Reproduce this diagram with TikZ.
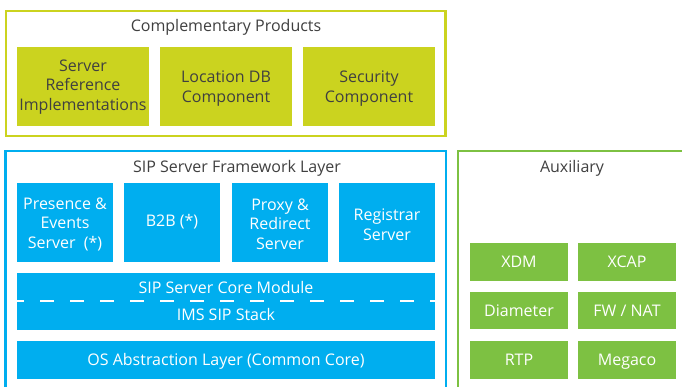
\documentclass[tikz,border=0pt]{standalone}
\usepackage{fontspec}
\setmainfont{Open Sans}
\definecolor{lime}{HTML}{CBD31F}
\definecolor{sipblue}{HTML}{00AEEF}
\definecolor{auxgreen}{HTML}{7DC142}
\definecolor{txt}{HTML}{404040}
\begin{document}
\begin{tikzpicture}[x=1pt,y=-1pt,
  lblm/.style={font=\fontsize{16}{19.5}\selectfont, align=center, inner sep=0pt},
  lbl/.style={lblm, text height=10pt, text depth=0pt},
  frame/.style={draw, line width=2.5pt, fill=white},
  title/.style={lbl, text=txt}]
\useasboundingbox (0,0) rectangle (682,387);
\clip (0,0) rectangle (682,387);
% frames
\draw[frame, draw=lime] (6,11) rectangle (445.5,136);
\draw[frame, draw=sipblue] (5.5,151) rectangle (446,420);
\draw[frame, draw=auxgreen] (458,151) rectangle (720,420);
% titles
\node[title] (tcomp) at (226,27) {Complementary Products};
\node[title] (tsip) at (237,167.5) {SIP Server Framework Layer};
\node[title] (taux) at (572,168) {Auxiliary};
% complementary boxes
\fill[lime] (17,47) rectangle (149,126);
\fill[lime] (160,47) rectangle (292,126);
\fill[lime] (303,47) rectangle (435,126);
\node[lblm,text=txt] (srv) at (83,87) {Server\\Reference\\Implementations};
\node[lblm,text=txt] (loc) at (226,88.5) {Location DB\\Component};
\node[lblm,text=txt] (sec) at (369,88.5) {Security\\Component};
% SIP boxes
\fill[sipblue] (17,183) rectangle (113,262);
\fill[sipblue] (124,183) rectangle (220,262);
\fill[sipblue] (232,183) rectangle (328,262);
\fill[sipblue] (339,183) rectangle (435,262);
\node[lblm,text=white] (pres) at (65,224) {Presence \&\\Events\\Server~~(*)};
\node[lbl,text=white] (b2b) at (172,222) {B2B (*)};
\node[lblm,text=white] (proxy) at (280,224) {Proxy \&\\Redirect\\Server};
\node[lblm,text=white] (reg) at (387,224.5) {Registrar\\Server};
\fill[sipblue] (17,273) rectangle (435,330);
\draw[white, line width=2.5pt, dash pattern=on 14pt off 16pt, dash phase=7pt] (17,301) -- (435,301);
\node[lbl,text=white] (core) at (226,288.5) {SIP Server Core Module};
\node[lbl,text=white] (ims) at (226,315.5) {IMS SIP Stack};
\fill[sipblue] (17,341) rectangle (435,379);
\node[lbl,text=white] (os) at (226,360) {OS Abstraction Layer (Common Core)};
% aux boxes
\fill[auxgreen] (470,243) rectangle (568,281);
\fill[auxgreen] (578,243) rectangle (676,281);
\fill[auxgreen] (470,292) rectangle (568,329);
\fill[auxgreen] (578,292) rectangle (676,329);
\fill[auxgreen] (470,341) rectangle (568,379);
\fill[auxgreen] (578,341) rectangle (676,379);
\node[lbl,text=white] (xdm) at (519,262.5) {XDM};
\node[lbl,text=white] (xcap) at (627,262.5) {XCAP};
\node[lbl,text=white] (dia) at (519,311.5) {Diameter};
\node[lbl,text=white] (fw) at (627,311.5) {FW / NAT};
\node[lbl,text=white] (rtp) at (519,360.5) {RTP};
\node[lbl,text=white] (meg) at (627,360.5) {Megaco};
\end{tikzpicture}
\end{document}
